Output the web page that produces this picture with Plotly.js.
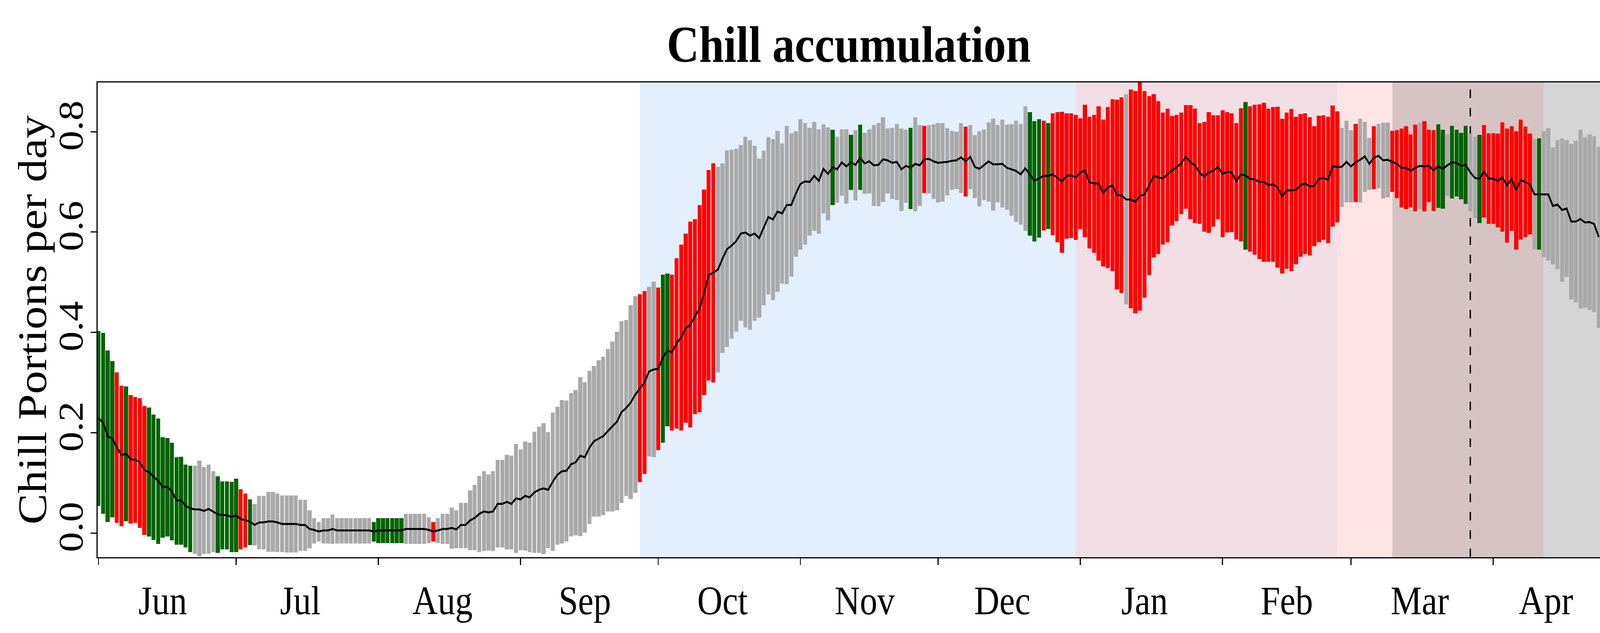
<!DOCTYPE html>
<html><head><meta charset="utf-8">
<script src="https://cdn.plot.ly/plotly-3.0.1.min.js"></script>
<style>html,body{margin:0;padding:0;background:#fff;overflow:hidden;}
#chart{width:4722px;height:1620px;transform-origin:0 0;}</style>
</head><body><div id="chart"></div>
<script>
// Day index 0 = 1 June ... 327 = 23 April
const dayMax = [
0.403,0.399,0.364,0.343,0.320,0.294,0.292,0.275,0.271,0.269,
0.253,0.250,0.236,0.228,0.191,0.189,0.180,0.151,0.152,0.136,
0.134,0.134,0.144,0.132,0.136,0.123,0.113,0.103,0.103,0.102,
0.108,0.087,0.079,0.067,0.058,0.074,0.074,0.082,0.082,0.079,
0.075,0.075,0.075,0.075,0.066,0.066,0.045,0.030,0.022,0.030,
0.030,0.037,0.030,0.030,0.030,0.030,0.030,0.030,0.030,0.030,
0.022,0.030,0.030,0.030,0.030,0.030,0.030,0.038,0.038,0.038,
0.038,0.038,0.031,0.022,0.030,0.038,0.038,0.051,0.045,0.060,
0.060,0.085,0.096,0.114,0.123,0.117,0.123,0.146,0.146,0.156,
0.154,0.178,0.167,0.182,0.180,0.202,0.212,0.219,0.201,0.240,
0.252,0.265,0.264,0.279,0.285,0.311,0.301,0.323,0.333,0.344,
0.351,0.367,0.382,0.401,0.422,0.425,0.454,0.472,0.476,0.482,
0.491,0.501,0.489,0.515,0.517,0.515,0.548,0.575,0.597,0.621,
0.626,0.654,0.685,0.724,0.737,0.730,0.737,0.763,0.764,0.766,
0.774,0.790,0.783,0.772,0.746,0.762,0.789,0.785,0.802,0.777,
0.812,0.797,0.801,0.825,0.817,0.808,0.820,0.805,0.815,0.809,
0.804,0.790,0.805,0.805,0.794,0.803,0.814,0.798,0.805,0.813,
0.817,0.829,0.806,0.808,0.816,0.806,0.804,0.808,0.829,0.813,
0.812,0.813,0.815,0.817,0.817,0.807,0.802,0.800,0.817,0.810,
0.813,0.793,0.801,0.805,0.819,0.826,0.813,0.824,0.814,0.815,
0.822,0.816,0.851,0.839,0.821,0.825,0.822,0.817,0.837,0.839,
0.840,0.837,0.837,0.834,0.827,0.854,0.830,0.834,0.851,0.824,
0.849,0.865,0.864,0.869,0.875,0.884,0.881,0.905,0.881,0.871,
0.875,0.861,0.838,0.846,0.831,0.834,0.838,0.853,0.853,0.846,
0.817,0.820,0.839,0.833,0.833,0.843,0.839,0.837,0.817,0.847,
0.859,0.851,0.854,0.855,0.858,0.846,0.849,0.850,0.826,0.838,
0.845,0.830,0.835,0.837,0.829,0.811,0.832,0.833,0.830,0.852,
0.841,0.808,0.822,0.803,0.816,0.826,0.820,0.788,0.811,0.816,
0.818,0.818,0.802,0.803,0.806,0.811,0.795,0.814,0.818,0.821,
0.804,0.803,0.815,0.804,0.795,0.812,0.804,0.798,0.812,0.796,
0.790,0.794,0.813,0.797,0.797,0.796,0.819,0.806,0.811,0.801,
0.824,0.810,0.796,0.785,0.787,0.801,0.807,0.769,0.783,0.787,
0.784,0.776,0.782,0.804,0.789,0.795,0.791,0.770];
const dayMin = [
0.054,0.038,0.022,0.031,0.020,0.013,0.023,0.019,0.020,0.010,
-0.004,-0.007,-0.014,-0.022,-0.009,-0.007,-0.015,-0.023,-0.023,-0.029,
-0.038,-0.042,-0.047,-0.042,-0.041,-0.038,-0.040,-0.033,-0.033,-0.038,
-0.038,-0.033,-0.029,-0.024,-0.025,-0.033,-0.033,-0.037,-0.037,-0.038,
-0.038,-0.039,-0.039,-0.039,-0.036,-0.036,-0.030,-0.021,-0.017,-0.021,
-0.021,-0.022,-0.021,-0.021,-0.021,-0.021,-0.021,-0.021,-0.021,-0.021,
-0.017,-0.020,-0.020,-0.020,-0.020,-0.020,-0.020,-0.022,-0.022,-0.022,
-0.022,-0.022,-0.020,-0.017,-0.020,-0.022,-0.022,-0.031,-0.030,-0.030,
-0.030,-0.034,-0.034,-0.038,-0.036,-0.035,-0.036,-0.029,-0.029,-0.033,
-0.033,-0.040,-0.034,-0.035,-0.038,-0.040,-0.040,-0.042,-0.030,-0.036,
-0.023,-0.021,-0.017,-0.007,-0.005,-0.006,0.001,0.018,0.033,0.033,
0.036,0.043,0.043,0.045,0.060,0.074,0.068,0.080,0.101,0.118,
0.153,0.151,0.165,0.180,0.213,0.204,0.208,0.204,0.220,0.210,
0.237,0.241,0.275,0.304,0.300,0.320,0.359,0.371,0.387,0.401,
0.423,0.410,0.405,0.423,0.429,0.454,0.475,0.464,0.481,0.497,
0.496,0.511,0.551,0.565,0.575,0.593,0.602,0.597,0.637,0.623,
0.654,0.658,0.672,0.657,0.684,0.663,0.684,0.676,0.677,0.652,
0.651,0.660,0.677,0.666,0.664,0.642,0.658,0.646,0.641,0.652,
0.678,0.677,0.666,0.659,0.661,0.673,0.684,0.686,0.678,0.671,
0.686,0.668,0.651,0.664,0.661,0.643,0.659,0.649,0.644,0.633,
0.620,0.615,0.602,0.593,0.581,0.589,0.603,0.606,0.594,0.580,
0.559,0.587,0.588,0.584,0.606,0.590,0.567,0.559,0.543,0.531,
0.528,0.522,0.485,0.478,0.456,0.448,0.438,0.443,0.469,0.514,
0.549,0.556,0.575,0.580,0.613,0.622,0.636,0.647,0.626,0.618,
0.616,0.601,0.598,0.611,0.626,0.590,0.599,0.600,0.585,0.581,
0.565,0.561,0.555,0.546,0.541,0.541,0.541,0.529,0.517,0.527,
0.522,0.536,0.551,0.556,0.553,0.572,0.580,0.584,0.578,0.611,
0.619,0.650,0.659,0.659,0.660,0.659,0.680,0.684,0.686,0.687,
0.667,0.669,0.680,0.668,0.649,0.646,0.649,0.641,0.646,0.641,
0.660,0.642,0.648,0.647,0.672,0.667,0.671,0.665,0.656,0.641,
0.628,0.618,0.629,0.616,0.616,0.609,0.601,0.579,0.602,0.565,
0.585,0.590,0.595,0.566,0.565,0.550,0.543,0.535,0.526,0.501,
0.510,0.466,0.460,0.447,0.449,0.445,0.440,0.409];
const dayMean = [
0.229,0.220,0.193,0.188,0.171,0.155,0.158,0.147,0.146,0.141,
0.125,0.122,0.112,0.104,0.092,0.092,0.083,0.065,0.065,0.054,
0.049,0.047,0.047,0.044,0.048,0.043,0.037,0.036,0.035,0.032,
0.035,0.028,0.025,0.023,0.016,0.021,0.021,0.023,0.023,0.021,
0.018,0.018,0.018,0.018,0.016,0.016,0.008,0.006,0.003,0.005,
0.005,0.008,0.005,0.005,0.005,0.005,0.005,0.005,0.005,0.005,
0.003,0.005,0.005,0.005,0.005,0.005,0.005,0.008,0.008,0.008,
0.008,0.008,0.006,0.003,0.005,0.008,0.008,0.010,0.007,0.016,
0.016,0.025,0.030,0.038,0.043,0.041,0.043,0.058,0.058,0.062,
0.058,0.069,0.067,0.074,0.071,0.081,0.086,0.089,0.086,0.102,
0.116,0.123,0.124,0.137,0.141,0.154,0.151,0.170,0.183,0.188,
0.193,0.203,0.212,0.222,0.241,0.249,0.260,0.276,0.288,0.300,
0.322,0.326,0.327,0.349,0.364,0.360,0.378,0.390,0.408,0.415,
0.432,0.447,0.478,0.514,0.519,0.525,0.547,0.566,0.573,0.582,
0.597,0.599,0.593,0.597,0.588,0.610,0.630,0.625,0.641,0.637,
0.654,0.654,0.677,0.696,0.701,0.700,0.712,0.702,0.726,0.716,
0.729,0.725,0.739,0.731,0.739,0.734,0.748,0.737,0.741,0.733,
0.734,0.745,0.743,0.738,0.740,0.725,0.732,0.728,0.736,0.733,
0.745,0.746,0.741,0.738,0.739,0.740,0.742,0.743,0.749,0.741,
0.750,0.730,0.726,0.734,0.741,0.735,0.735,0.736,0.728,0.725,
0.722,0.715,0.727,0.715,0.702,0.707,0.712,0.712,0.715,0.708,
0.701,0.712,0.713,0.709,0.718,0.723,0.699,0.697,0.697,0.678,
0.689,0.693,0.674,0.673,0.665,0.665,0.660,0.672,0.675,0.693,
0.712,0.709,0.707,0.715,0.723,0.729,0.737,0.750,0.739,0.733,
0.718,0.711,0.719,0.722,0.730,0.716,0.720,0.719,0.701,0.715,
0.713,0.706,0.705,0.700,0.700,0.694,0.695,0.689,0.671,0.683,
0.683,0.684,0.693,0.697,0.691,0.692,0.706,0.708,0.704,0.731,
0.730,0.730,0.740,0.731,0.739,0.744,0.751,0.736,0.748,0.752,
0.743,0.744,0.740,0.736,0.728,0.728,0.722,0.728,0.732,0.731,
0.732,0.723,0.731,0.726,0.733,0.739,0.738,0.732,0.734,0.719,
0.708,0.706,0.721,0.707,0.706,0.702,0.709,0.693,0.706,0.683,
0.704,0.699,0.695,0.675,0.675,0.675,0.675,0.652,0.655,0.644,
0.647,0.621,0.621,0.626,0.619,0.620,0.616,0.590];
// N = normal (grey), G = green, R = red
const dayClass = (
"GGGGRRGRRR"+"RGGGGGGGGG"+"GNNNNNGGGG"+"GRRGNNNNNN"+"NNNNNNNNNN"+
"NNNNNNNNNN"+"GGGGGGGNNN"+"NNNRNNNNNN"+"NNNNNNNNNN"+"NNNNNNNNNN"+
"NNNNNNNNNN"+"NNNNNNNNRR"+"NNRGGRRRRR"+"RRRRRNNNNN"+"NNNNNNNNNN"+
"NNNNNNNNNN"+"GNNNGNGNNN"+"NNNNNNNGNN"+"RNNNNNNNNR"+"NNNNNNNNNN"+
"NNNGGGRGRR"+"RRRRRRRRRR"+"RRRRNRRRRR"+"RRRRRRRRRR"+"RRRRRRRRRR"+
"GRRRRRRRRR"+"RRRRRRRRRR"+"RNNNRNNNRN"+"NNRRRRRRNR"+"RRGGNGGGGN"+
"NGRRRRRRRR"+"RRRNGNNNNN"+"NNNNNNNN").split('');

const monthTickDays = [0,30,61,92,122,153,183,214,245,273,304];
const monthLabelDays = [14,44,75,106,136,167,197,228,259,288,315.5];
const monthLabels = ['Jun','Jul','Aug','Sep','Oct','Nov','Dec','Jan','Feb','Mar','Apr'];

const periodStart = [118,213,270,282,315];
const periodEnd   = [213,270,282,315,327.27];
const periodColor = ['#E3EFFD','#F1DFE5','#FFE4E6','#D6C4C4','#D5D5D5'];
const markerDay = 299;

const classColor = {N:'#A9A9A9', G:'#006400', R:'#FF0000'};
const FONT = 'Liberation Serif, Times New Roman, serif';

const traces = [];
['N','G','R'].forEach(c => {
  const xs=[], base=[], h=[];
  dayClass.forEach((k,i)=>{ if(k===c){ xs.push(i); base.push(dayMin[i]); h.push(dayMax[i]-dayMin[i]); }});
  traces.push({type:'bar', x:xs, y:h, base:base, width:0.88,
    marker:{color:classColor[c], line:{width:0}}, hoverinfo:'skip', showlegend:false});
});
traces.push({type:'scatter', mode:'lines', x:dayMean.map((_,i)=>i), y:dayMean,
  xaxis:'x2', yaxis:'y', line:{color:'#000', width:5}, hoverinfo:'skip', showlegend:false});

const shapes = periodStart.map((s,i)=>({type:'rect', xref:'x', yref:'paper', x0:s, x1:periodEnd[i], y0:0, y1:1,
  fillcolor:periodColor[i], line:{width:0}, layer:'below'}));
shapes.push({type:'line', xref:'x', yref:'paper', x0:markerDay, x1:markerDay, y0:0, y1:1,
  line:{color:'#000', width:4, dash:'22px,25px'}, layer:'below'});

const xr = [-0.2, 327.27];
const layout = {
  width:4722, height:1620,
  margin:{l:288, r:0, t:211, b:194, pad:0},
  paper_bgcolor:'#fff', plot_bgcolor:'#fff',
  showlegend:false, barmode:'overlay', bargap:0,
  title:{text:'<b>Chill accumulation</b>', font:{family:FONT, size:132, color:'#000'},
    x:0.5, xref:'paper', xanchor:'center', y:1-112/1620, yref:'container', yanchor:'middle'},
  xaxis:{range:xr, tickvals:monthTickDays, ticktext:monthTickDays.map(()=>''), ticks:'outside',
    ticklen:17, tickwidth:3, tickcolor:'#000', showline:true, linecolor:'#000', linewidth:3,
    mirror:true, showgrid:false, zeroline:false, fixedrange:true},
  xaxis2:{overlaying:'x', anchor:'y', side:'bottom', range:xr, tickvals:monthLabelDays, ticktext:monthLabels,
    ticks:'', showline:false, showgrid:false, zeroline:false, ticklabelstandoff:42,
    tickfont:{family:FONT, size:103, color:'#000'}},
  yaxis:{range:[-0.0483,0.8983], tickvals:[0,0.2,0.4,0.6,0.8], ticktext:['0.0','0.2','0.4','0.6','0.8'],
    ticks:'outside', ticklen:17, tickwidth:3, tickcolor:'#000', tickangle:-90,
    tickfont:{family:FONT, size:103, color:'#000'}, ticklabelstandoff:-17,
    showline:true, linecolor:'#000', linewidth:3, mirror:false, showgrid:false, zeroline:false},
  annotations:[{text:'Chill Portions per day', textangle:-90, xref:'paper', yref:'paper',
    x:(96-288)/(4722-288), y:0.5, xanchor:'center', yanchor:'middle', showarrow:false,
    font:{family:FONT, size:119, color:'#000'}}],
  shapes:shapes
};
Plotly.newPlot('chart', traces, layout, {displayModeBar:false, staticPlot:true}).then(() => {
  // fit the finished 4722 x 1620 drawing into whatever viewport the browser gives
  const VW = window.innerWidth || document.documentElement.clientWidth || 4722;
  const VH = window.innerHeight || document.documentElement.clientHeight || 1620;
  document.getElementById('chart').style.transform = 'scale(' + (VW/4722) + ',' + (VH/1620) + ')';
});
</script>
</body></html>
